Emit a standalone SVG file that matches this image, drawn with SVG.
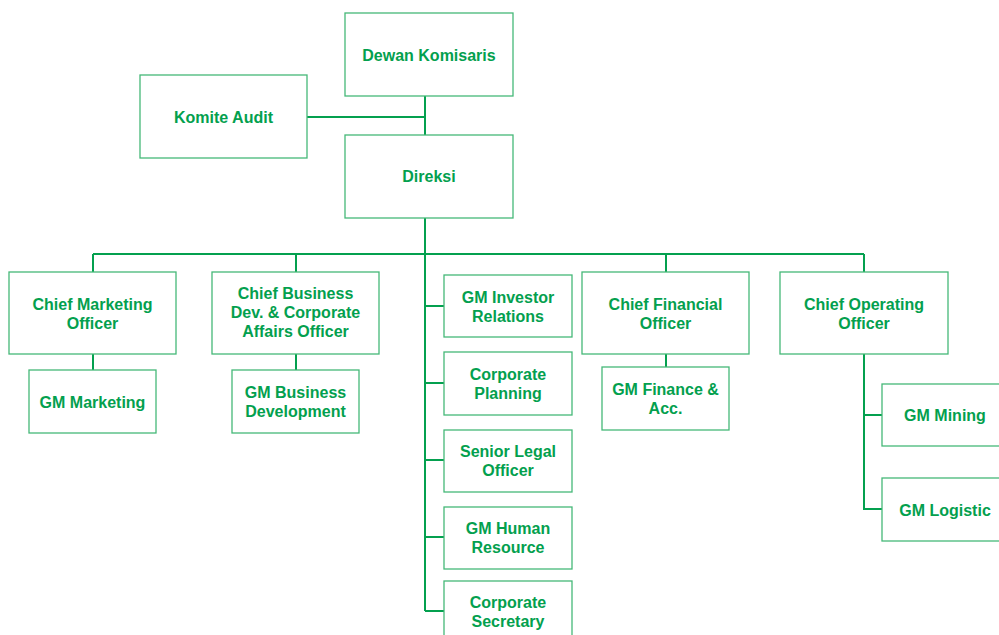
<svg xmlns="http://www.w3.org/2000/svg" width="999" height="635" viewBox="0 0 999 635">
<style>
.box{fill:#fff;stroke:#45b878;stroke-width:1.3}
.t{font-family:"Liberation Sans",Arial,sans-serif;font-weight:bold;font-size:16px;fill:#03a04e;text-anchor:middle}
.ln{fill:none;stroke:#04a04f;stroke-width:2}
</style>
<rect width="999" height="635" fill="#fff"/>
<g id="connectors">
<path class="ln" d="M425 96V135M307 117H425M425 218V611M93 254H864M93 254V272M296 254V272M666 254V272M864 254V272"/>
<path class="ln" d="M93 354V370M296 354V370M666 354V367"/>
<path class="ln" d="M425 306H444M425 383H444M425 460H444M425 537H444M425 611H444"/>
<path class="ln" d="M864 354V509H882M864 415H882"/>
</g>
<g id="dewan"><rect class="box" x="345" y="13" width="168" height="83"/><text class="t" x="429" y="61">Dewan Komisaris</text></g>
<g id="komite"><rect class="box" x="140" y="75" width="167" height="83"/><text class="t" x="223.5" y="123">Komite Audit</text></g>
<g id="direksi"><rect class="box" x="345" y="135" width="168" height="83"/><text class="t" x="429" y="182">Direksi</text></g>
<g id="cmo"><rect class="box" x="9" y="272" width="167" height="82"/><text class="t" x="92.5"><tspan x="92.5" y="310">Chief Marketing</tspan><tspan x="92.5" y="329">Officer</tspan></text></g>
<g id="gm-marketing"><rect class="box" x="29" y="370" width="127" height="63"/><text class="t" x="92.5" y="408">GM Marketing</text></g>
<g id="cbd"><rect class="box" x="212" y="272" width="167" height="82"/><text class="t" x="295.5"><tspan x="295.5" y="299">Chief Business</tspan><tspan x="295.5" y="318">Dev. &amp; Corporate</tspan><tspan x="295.5" y="337">Affairs Officer</tspan></text></g>
<g id="gm-bd"><rect class="box" x="232" y="370" width="127" height="63"/><text class="t"><tspan x="295.5" y="398">GM Business</tspan><tspan x="295.5" y="417">Development</tspan></text></g>
<g id="gm-ir"><rect class="box" x="444" y="275" width="128" height="62"/><text class="t"><tspan x="508" y="303">GM Investor</tspan><tspan x="508" y="322">Relations</tspan></text></g>
<g id="corp-planning"><rect class="box" x="444" y="352" width="128" height="63"/><text class="t"><tspan x="508" y="380">Corporate</tspan><tspan x="508" y="399">Planning</tspan></text></g>
<g id="legal"><rect class="box" x="444" y="430" width="128" height="62"/><text class="t"><tspan x="508" y="457">Senior Legal</tspan><tspan x="508" y="476">Officer</tspan></text></g>
<g id="gm-hr"><rect class="box" x="444" y="507" width="128" height="62"/><text class="t"><tspan x="508" y="534">GM Human</tspan><tspan x="508" y="553">Resource</tspan></text></g>
<g id="corp-sec"><rect class="box" x="444" y="581" width="128" height="63"/><text class="t"><tspan x="508" y="608">Corporate</tspan><tspan x="508" y="627">Secretary</tspan></text></g>
<g id="cfo"><rect class="box" x="582" y="272" width="167" height="82"/><text class="t"><tspan x="665.5" y="310">Chief Financial</tspan><tspan x="665.5" y="329">Officer</tspan></text></g>
<g id="gm-fin"><rect class="box" x="602" y="367" width="127" height="63"/><text class="t"><tspan x="665.5" y="395">GM Finance &amp;</tspan><tspan x="665.5" y="414">Acc.</tspan></text></g>
<g id="coo"><rect class="box" x="780" y="272" width="168" height="82"/><text class="t"><tspan x="864" y="310">Chief Operating</tspan><tspan x="864" y="329">Officer</tspan></text></g>
<g id="gm-mining"><rect class="box" x="882" y="384" width="130" height="62"/><text class="t" x="945" y="421">GM Mining</text></g>
<g id="gm-logistic"><rect class="box" x="882" y="478" width="130" height="63"/><text class="t" x="945" y="516">GM Logistic</text></g>
</svg>
